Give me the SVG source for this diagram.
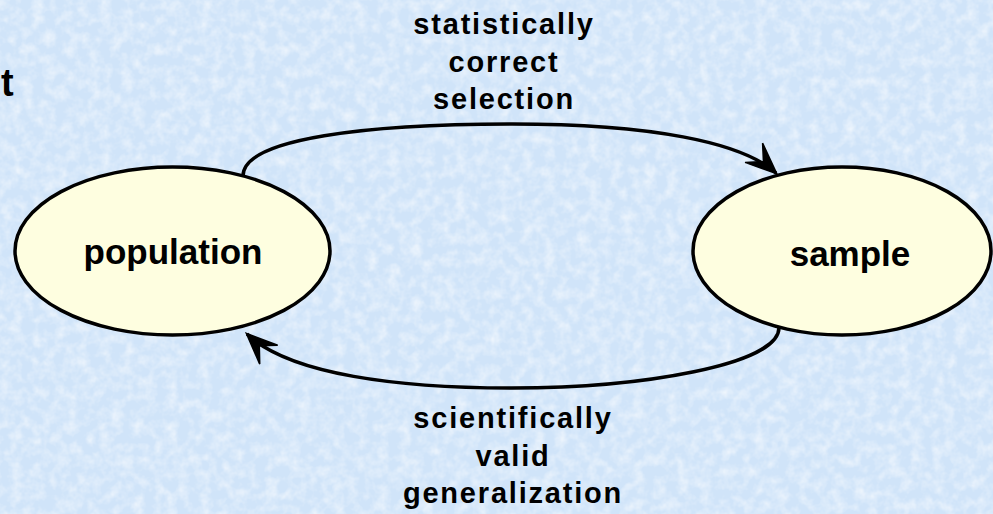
<svg xmlns="http://www.w3.org/2000/svg" width="993" height="514" viewBox="0 0 993 514">
<defs>
<style>
.node{fill:#fefee0;stroke:#000;stroke-width:3.5}
.lbl{font-family:"Liberation Sans",Arial,sans-serif;font-weight:bold;fill:#000}
.nt{font-size:35px;text-anchor:middle}
.et{font-size:29px;letter-spacing:1.8px;text-anchor:middle}
.conn{fill:none;stroke:#000;stroke-width:3.5}
</style>
<filter id="tex" x="0" y="0" width="100%" height="100%">
<feTurbulence type="fractalNoise" baseFrequency="0.09" numOctaves="3" seed="4" result="n"/>
<feColorMatrix in="n" type="matrix" values="0 0 0 0 1  0 0 0 0 1  0 0 0 0 1  1.1 0 0 0 -0.42"/>
</filter>
<marker id="arr" markerUnits="userSpaceOnUse" viewBox="-36 -17 40 34" refX="0" refY="0" markerWidth="40" markerHeight="34" orient="auto">
<path d="M1,0 L-30,-13 L-17,0 L-30,13 Z" fill="#000" stroke="#000" stroke-width="1.5" stroke-linejoin="miter"/>
</marker>
</defs>
<rect width="993" height="514" fill="#d0e4f9"/>
<rect width="993" height="514" filter="url(#tex)"/>
<text class="lbl" x="1" y="96" font-size="38px">t</text>
<g id="connectors">
<path class="conn" d="M243,176 C243,138 370,124 512,124 C650,124 742,142 776,173" marker-end="url(#arr)"/>
<path class="conn" d="M779,327 C780,365 640,388 512,388 C400,388 290,375 247,334" marker-end="url(#arr)"/>
</g>
<g id="population">
<ellipse class="node" cx="172.5" cy="251" rx="157.5" ry="84"/>
<text class="lbl nt" x="173" y="264">population</text>
</g>
<g id="sample">
<ellipse class="node" cx="842" cy="251" rx="149" ry="84"/>
<text class="lbl nt" x="850" y="266">sample</text>
</g>
<g id="label-top">
<text class="lbl et" x="504" y="34">statistically</text>
<text class="lbl et" x="504" y="72">correct</text>
<text class="lbl et" x="504" y="109">selection</text>
</g>
<g id="label-bottom">
<text class="lbl et" x="513" y="428">scientifically</text>
<text class="lbl et" x="513" y="466">valid</text>
<text class="lbl et" x="513" y="503">generalization</text>
</g>
</svg>
